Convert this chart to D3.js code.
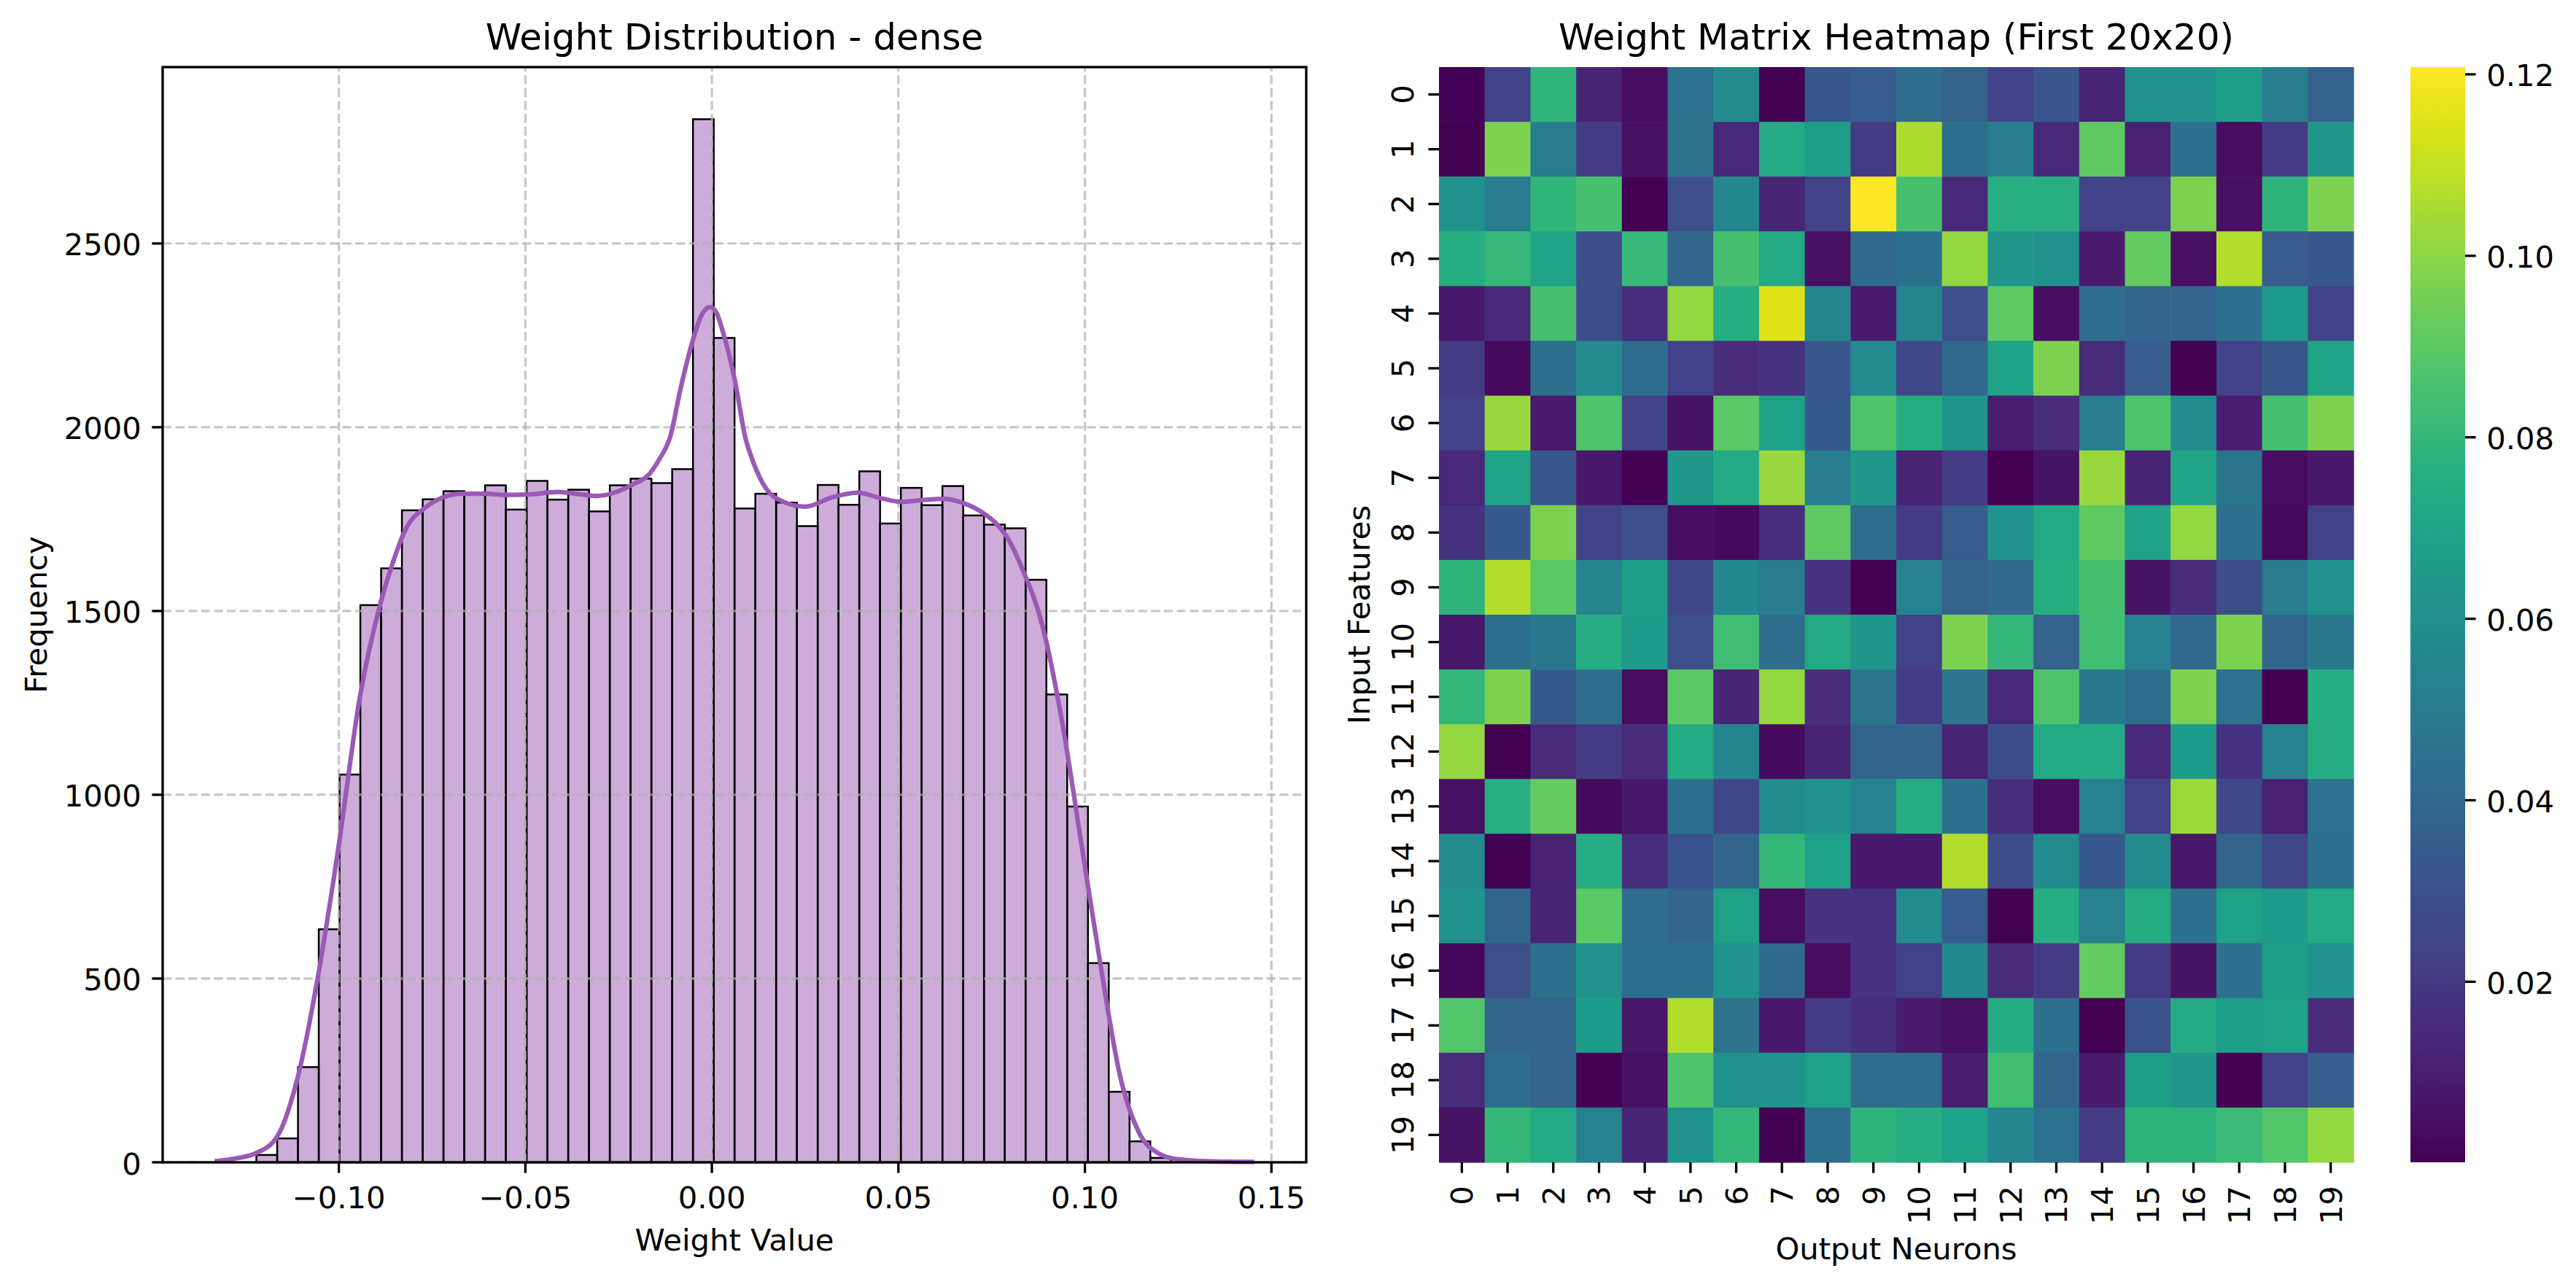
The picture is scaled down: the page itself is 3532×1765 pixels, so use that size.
<!DOCTYPE html>
<html><head><meta charset="utf-8">
<script src="https://cdn.jsdelivr.net/npm/d3@7"></script>
<style>
body{margin:0;background:#fff;}
text{font-family:"DejaVu Sans",sans-serif;fill:#000;}
</style>
</head><body>
<svg id="chart" width="3532" height="1765" xmlns="http://www.w3.org/2000/svg"></svg>
<script>
// ---------- Histogram data ----------
const binStart = -0.1221;
const binWidth = 0.005573;
const binCounts = [20, 65, 259, 634, 1055, 1516, 1616, 1774, 1804, 1826, 1822, 1842, 1776, 1854, 1803, 1830, 1771, 1842, 1860, 1848, 1886, 2838,
                   2243, 1779, 1819, 1795, 1731, 1843, 1789, 1880, 1738, 1835, 1788, 1840, 1760, 1735, 1725, 1585, 1273, 968, 542, 192, 57, 12];
const kdeX = [-0.1333, -0.1280, -0.1222, -0.1166, -0.1109, -0.1055, -0.1000, -0.0945, -0.0888, -0.0861, -0.0819, -0.0770, -0.0721, -0.0672, -0.0600,
              -0.0560, -0.0491, -0.0414, -0.0351, -0.0309, -0.0253, -0.0211, -0.0169, -0.0142, -0.0110, -0.0085, -0.0056, -0.0026, -0.0005, 0.0012,
              0.0030, 0.0061, 0.0090, 0.0111, 0.0146, 0.0188, 0.0251, 0.0321, 0.0390, 0.0453, 0.0509, 0.0565, 0.0621, 0.0670, 0.0719, 0.0761,
              0.0796, 0.0830, 0.0888, 0.0939, 0.0991, 0.1043, 0.1094, 0.1146, 0.1198, 0.1250, 0.1353, 0.1454];
const kdeY = [3, 10, 25, 69, 236, 511, 864, 1257, 1522, 1614, 1726, 1780, 1809, 1819, 1819,
              1816, 1817, 1824, 1817, 1813, 1825, 1845, 1871, 1911, 1980, 2100, 2219, 2308, 2327, 2312,
              2258, 2131, 1971, 1905, 1832, 1799, 1784, 1809, 1822, 1807, 1797, 1802, 1805, 1795, 1772, 1739,
              1693, 1620, 1453, 1198, 864, 530, 236, 79, 24, 8, 2, 1];
const histXTicks = [-0.10, -0.05, 0.00, 0.05, 0.10, 0.15];
const histYTicks = [0, 500, 1000, 1500, 2000, 2500];

// ---------- Heatmap data (rows = input features, cols = output neurons) ----------
const heatRow0  = [0.001, 0.024, 0.079, 0.012, 0.004, 0.045, 0.058, 0.0005, 0.033, 0.035, 0.043, 0.038, 0.024, 0.032, 0.012, 0.061, 0.061, 0.067, 0.051, 0.037];
const heatRow1  = [0.0005, 0.097, 0.050, 0.021, 0.005, 0.046, 0.014, 0.073, 0.067, 0.021, 0.106, 0.044, 0.051, 0.014, 0.091, 0.011, 0.044, 0.004, 0.021, 0.064];
const heatRow2  = [0.061, 0.051, 0.079, 0.085, 0.0001, 0.029, 0.056, 0.012, 0.024, 0.1208, 0.085, 0.014, 0.076, 0.076, 0.024, 0.024, 0.097, 0.005, 0.078, 0.097];
const heatRow3  = [0.075, 0.081, 0.070, 0.028, 0.081, 0.039, 0.085, 0.073, 0.005, 0.041, 0.044, 0.101, 0.064, 0.061, 0.009, 0.092, 0.005, 0.107, 0.035, 0.033];
const heatRow4  = [0.008, 0.014, 0.085, 0.028, 0.016, 0.101, 0.075, 0.115, 0.055, 0.009, 0.055, 0.029, 0.091, 0.004, 0.043, 0.039, 0.039, 0.044, 0.066, 0.024];
const heatRow5  = [0.021, 0.003, 0.044, 0.058, 0.043, 0.023, 0.015, 0.018, 0.033, 0.058, 0.026, 0.041, 0.069, 0.097, 0.015, 0.035, 0.0005, 0.024, 0.033, 0.070];
const heatRow6  = [0.024, 0.102, 0.009, 0.087, 0.024, 0.006, 0.090, 0.069, 0.034, 0.087, 0.075, 0.063, 0.010, 0.015, 0.051, 0.087, 0.058, 0.010, 0.085, 0.097];
const heatRow7  = [0.014, 0.070, 0.033, 0.008, 0.0005, 0.064, 0.073, 0.102, 0.051, 0.064, 0.012, 0.021, 0.0005, 0.006, 0.102, 0.012, 0.070, 0.047, 0.004, 0.008];
const heatRow8  = [0.018, 0.034, 0.097, 0.024, 0.029, 0.004, 0.003, 0.016, 0.091, 0.043, 0.021, 0.035, 0.061, 0.073, 0.091, 0.068, 0.101, 0.044, 0.003, 0.023];
const heatRow9  = [0.078, 0.107, 0.090, 0.055, 0.067, 0.026, 0.056, 0.050, 0.018, 0.0005, 0.052, 0.038, 0.041, 0.075, 0.085, 0.006, 0.015, 0.028, 0.050, 0.061];
const heatRow10 = [0.008, 0.044, 0.049, 0.075, 0.066, 0.029, 0.084, 0.043, 0.073, 0.063, 0.023, 0.097, 0.080, 0.037, 0.084, 0.052, 0.041, 0.097, 0.039, 0.049];
const heatRow11 = [0.080, 0.097, 0.034, 0.043, 0.004, 0.090, 0.012, 0.101, 0.015, 0.047, 0.021, 0.047, 0.014, 0.087, 0.049, 0.043, 0.097, 0.045, 0.0005, 0.075];
const heatRow12 = [0.101, 0.0005, 0.015, 0.021, 0.015, 0.073, 0.055, 0.003, 0.012, 0.039, 0.039, 0.012, 0.028, 0.073, 0.073, 0.014, 0.066, 0.018, 0.052, 0.075];
const heatRow13 = [0.005, 0.076, 0.092, 0.003, 0.008, 0.044, 0.026, 0.058, 0.062, 0.052, 0.075, 0.044, 0.016, 0.004, 0.052, 0.023, 0.103, 0.026, 0.011, 0.045];
const heatRow14 = [0.058, 0.0005, 0.011, 0.075, 0.016, 0.030, 0.039, 0.080, 0.068, 0.008, 0.008, 0.107, 0.028, 0.058, 0.033, 0.058, 0.008, 0.039, 0.026, 0.044];
const heatRow15 = [0.062, 0.039, 0.012, 0.090, 0.043, 0.039, 0.069, 0.004, 0.018, 0.018, 0.058, 0.035, 0.0005, 0.075, 0.052, 0.074, 0.044, 0.069, 0.066, 0.073];
const heatRow16 = [0.002, 0.029, 0.044, 0.062, 0.044, 0.044, 0.062, 0.041, 0.004, 0.018, 0.023, 0.056, 0.015, 0.021, 0.092, 0.021, 0.006, 0.044, 0.067, 0.062];
const heatRow17 = [0.088, 0.039, 0.039, 0.066, 0.008, 0.107, 0.046, 0.008, 0.021, 0.017, 0.009, 0.005, 0.074, 0.044, 0.0005, 0.030, 0.073, 0.067, 0.068, 0.015];
const heatRow18 = [0.015, 0.043, 0.039, 0.0005, 0.005, 0.087, 0.061, 0.062, 0.068, 0.043, 0.043, 0.010, 0.084, 0.039, 0.009, 0.067, 0.064, 0.0005, 0.024, 0.035];
const heatRow19 = [0.006, 0.080, 0.073, 0.052, 0.012, 0.061, 0.080, 0.0005, 0.044, 0.078, 0.075, 0.068, 0.055, 0.045, 0.021, 0.078, 0.078, 0.082, 0.088, 0.101];
const heatMatrix = [heatRow0, heatRow1, heatRow2, heatRow3, heatRow4, heatRow5, heatRow6, heatRow7, heatRow8, heatRow9,
                    heatRow10, heatRow11, heatRow12, heatRow13, heatRow14, heatRow15, heatRow16, heatRow17, heatRow18, heatRow19];
const heatRowLabels = d3.range(20).map(String);
const heatColLabels = d3.range(20).map(String);
const colorbarTicks = [0.02, 0.04, 0.06, 0.08, 0.10, 0.12];

// ---------- Styles ----------
const FS = 41.7, FS_TITLE = 50, LW = 3.33, TICK = 14.6, PAD = 14.6;
const PURPLE = "#9b59b6";

const svg = d3.select("#chart");
svg.append("rect").attr("width", 3532).attr("height", 1765).attr("fill", "#fff");

// =============== LEFT: Histogram ===============
const H = {left: 223, right: 1791, top: 92, bottom: 1594};
const xMin = kdeX[0], xMax = kdeX[kdeX.length - 1];
const xPad = 0.05 * (xMax - xMin);
const xH = d3.scaleLinear().domain([xMin - xPad, xMax + xPad]).range([H.left, H.right]);
const yH = d3.scaleLinear().domain([0, d3.max(binCounts) * 1.05]).range([H.bottom, H.top]);

const gH = svg.append("g");
// bars
gH.append("g").selectAll("rect").data(binCounts).join("rect")
  .attr("x", (d, i) => xH(binStart + i * binWidth))
  .attr("width", (d, i) => xH(binStart + (i + 1) * binWidth) - xH(binStart + i * binWidth))
  .attr("y", d => yH(d))
  .attr("height", d => yH(0) - yH(d))
  .attr("fill", PURPLE).attr("fill-opacity", 0.5)
  .attr("stroke", "#000").attr("stroke-width", 2.5);

// grid (above bars, below line)
const grid = gH.append("g").attr("stroke", "#b0b0b0").attr("stroke-opacity", 0.7)
  .attr("stroke-width", LW).attr("stroke-dasharray", "12.3,5.3");
grid.selectAll("line.v").data(histXTicks).join("line").attr("class", "v")
  .attr("x1", d => xH(d)).attr("x2", d => xH(d)).attr("y1", H.bottom).attr("y2", H.top);
grid.selectAll("line.h").data(histYTicks).join("line").attr("class", "h")
  .attr("y1", d => yH(d)).attr("y2", d => yH(d)).attr("x1", H.left).attr("x2", H.right);

// KDE
const kdePts = kdeX.map((x, i) => [x, kdeY[i]]);
gH.append("path").datum(kdePts)
  .attr("d", d3.line().x(d => xH(d[0])).y(d => yH(d[1])).curve(d3.curveMonotoneX))
  .attr("fill", "none").attr("stroke", PURPLE).attr("stroke-width", 6.25)
  .attr("stroke-linejoin", "round").attr("stroke-linecap", "butt");

// spines
gH.append("rect").attr("x", H.left).attr("y", H.top)
  .attr("width", H.right - H.left).attr("height", H.bottom - H.top)
  .attr("fill", "none").attr("stroke", "#000").attr("stroke-width", LW);

// x ticks
const fmt2 = d3.format(".2f");
const xt = gH.append("g").selectAll("g").data(histXTicks).join("g");
xt.append("line").attr("x1", d => xH(d)).attr("x2", d => xH(d))
  .attr("y1", H.bottom).attr("y2", H.bottom + TICK).attr("stroke", "#000").attr("stroke-width", LW);
xt.append("text").attr("x", d => xH(d)).attr("y", 1657).attr("text-anchor", "middle")
  .attr("font-size", FS).text(d => fmt2(d));
// y ticks
const yt = gH.append("g").selectAll("g").data(histYTicks).join("g");
yt.append("line").attr("x1", H.left - TICK).attr("x2", H.left)
  .attr("y1", d => yH(d)).attr("y2", d => yH(d)).attr("stroke", "#000").attr("stroke-width", LW);
yt.append("text").attr("x", H.left - TICK - PAD).attr("y", d => yH(d) + 16.5)
  .attr("text-anchor", "end").attr("font-size", FS).text(d => String(d));

// labels
gH.append("text").attr("x", (H.left + H.right) / 2).attr("y", 1715).attr("text-anchor", "middle")
  .attr("font-size", FS).text("Weight Value");
gH.append("text").attr("transform", `translate(64,${(H.top + H.bottom) / 2}) rotate(-90)`)
  .attr("text-anchor", "middle").attr("font-size", FS).text("Frequency");
gH.append("text").attr("x", (H.left + H.right) / 2).attr("y", 68).attr("text-anchor", "middle")
  .attr("font-size", FS_TITLE).text("Weight Distribution - dense");

// =============== RIGHT: Heatmap ===============
const M = {left: 1973, right: 3227, top: 92, bottom: 1594};
const xM = d3.scaleBand().domain(d3.range(20)).range([M.left, M.right]);
const yM = d3.scaleBand().domain(d3.range(20)).range([M.top, M.bottom]);
const allVals = heatMatrix.flat();
const color = d3.scaleSequential(d3.interpolateViridis).domain(d3.extent(allVals));

const cells = [];
heatMatrix.forEach((row, r) => row.forEach((v, c) => cells.push({r, c, v})));
const gM = svg.append("g");
gM.append("g").selectAll("rect").data(cells).join("rect")
  .attr("x", d => xM(d.c)).attr("y", d => yM(d.r))
  .attr("width", xM.bandwidth() + 0.6).attr("height", yM.bandwidth() + 0.6)
  .attr("fill", d => color(d.v));

// x ticks (bottom)
const mxt = gM.append("g").selectAll("g").data(d3.range(20)).join("g");
mxt.append("line").attr("x1", d => xM(d) + xM.bandwidth() / 2).attr("x2", d => xM(d) + xM.bandwidth() / 2)
  .attr("y1", M.bottom).attr("y2", M.bottom + TICK).attr("stroke", "#000").attr("stroke-width", LW);
mxt.append("text")
  .attr("transform", d => `translate(${xM(d) + xM.bandwidth() / 2 + 15},${M.bottom + TICK + PAD + 3}) rotate(-90)`)
  .attr("text-anchor", "end").attr("font-size", FS).text(d => heatColLabels[d]);
// y ticks (left)
const myt = gM.append("g").selectAll("g").data(d3.range(20)).join("g");
myt.append("line").attr("x1", M.left - TICK).attr("x2", M.left)
  .attr("y1", d => yM(d) + yM.bandwidth() / 2).attr("y2", d => yM(d) + yM.bandwidth() / 2)
  .attr("stroke", "#000").attr("stroke-width", LW);
myt.append("text")
  .attr("transform", d => `translate(1938,${yM(d) + yM.bandwidth() / 2}) rotate(-90)`)
  .attr("text-anchor", "middle").attr("font-size", FS).text(d => heatRowLabels[d]);

// labels
gM.append("text").attr("x", (M.left + M.right) / 2).attr("y", 1727).attr("text-anchor", "middle")
  .attr("font-size", FS).text("Output Neurons");
gM.append("text").attr("transform", `translate(1878,${(M.top + M.bottom) / 2}) rotate(-90)`)
  .attr("text-anchor", "middle").attr("font-size", FS).text("Input Features");
gM.append("text").attr("x", (M.left + M.right) / 2).attr("y", 68).attr("text-anchor", "middle")
  .attr("font-size", FS_TITLE).text("Weight Matrix Heatmap (First 20x20)");

// colorbar
const CB = {left: 3305, right: 3380, top: 92, bottom: 1594};
const yCB = d3.scaleLinear().domain(color.domain()).range([CB.bottom, CB.top]);
const defs = svg.append("defs");
const grad = defs.append("linearGradient").attr("id", "cbgrad")
  .attr("x1", 0).attr("y1", 1).attr("x2", 0).attr("y2", 0);
grad.selectAll("stop").data(d3.range(0, 1.0001, 0.02)).join("stop")
  .attr("offset", d => d).attr("stop-color", d => d3.interpolateViridis(d));
gM.append("rect").attr("x", CB.left).attr("y", CB.top)
  .attr("width", CB.right - CB.left).attr("height", CB.bottom - CB.top).attr("fill", "url(#cbgrad)");
const cbt = gM.append("g").selectAll("g").data(colorbarTicks).join("g");
cbt.append("line").attr("x1", CB.right).attr("x2", CB.right + TICK)
  .attr("y1", d => yCB(d)).attr("y2", d => yCB(d)).attr("stroke", "#000").attr("stroke-width", LW);
cbt.append("text").attr("x", CB.right + TICK + PAD).attr("y", d => yCB(d) + 16.5)
  .attr("font-size", FS).text(d => fmt2(d));
</script>
</body></html>
